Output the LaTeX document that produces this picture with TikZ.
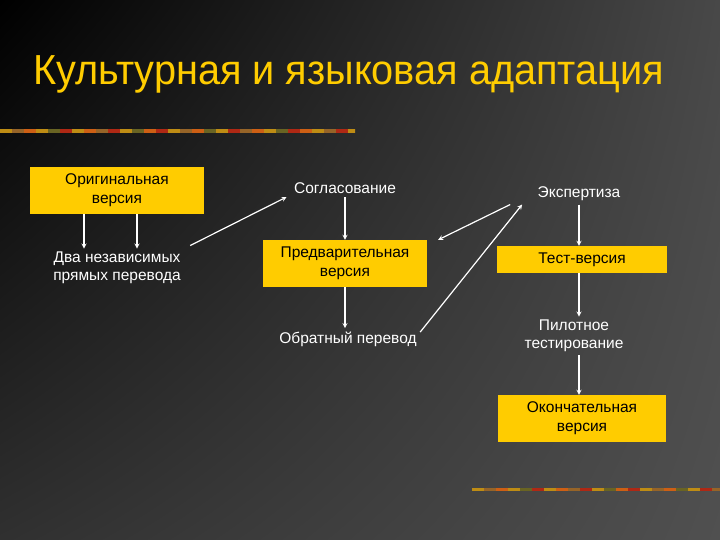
\documentclass[tikz,border=0pt]{standalone}
\usepackage{fontspec}
\usepackage{graphicx}
\setmainfont{Liberation Sans}
\usetikzlibrary{shadings}
\definecolor{gold}{RGB}{255,204,0}
\definecolor{bgTR}{RGB}{72,72,72}
\definecolor{bgBL}{RGB}{48,48,48}
\definecolor{bgBR}{RGB}{80,80,80}
\definecolor{stripA}{RGB}{190,140,20}
\definecolor{stripB}{RGB}{205,95,20}
\definecolor{stripC}{RGB}{175,40,20}
\definecolor{stripD}{RGB}{105,100,35}
\definecolor{stripE}{RGB}{150,100,40}
\tikzset{
  box/.style={fill=gold, text=black, align=center, inner sep=0pt, font=\fontsize{15.5}{19}\selectfont},
  lbl/.style={text=white, align=center, font=\fontsize{15.5}{18}\selectfont},
  arr/.style={draw=white, line width=1.2pt, -stealth},
}
\newcommand{\deco}[3]{%
  \begin{scope}
    \clip (#1,#2) rectangle (#3,#2+3.5);
    \foreach \c [count=\i from 0] in {stripA,stripE,stripB,stripA,stripD,stripC,stripA,stripB,stripE,stripC,
                                      stripA,stripD,stripB,stripC,stripA,stripE,stripB,stripD,stripA,stripC,
                                      stripE,stripB,stripA,stripD,stripC,stripB,stripA,stripE,stripC,stripA}
      \fill[\c] (#1+\i*12,#2) rectangle ++(12,3.5);
  \end{scope}}
\begin{document}
\begin{tikzpicture}[x=1pt,y=-1pt]
\shade[upper left=black, upper right=bgTR, lower left=bgBL, lower right=bgBR]
  (0,0) rectangle (720,540);
\node[anchor=base west, inner sep=0pt, text=gold, font=\fontsize{42}{48}\selectfont] (title) at (33,85) {\scalebox{0.945}[1]{Культурная и языковая адаптация}};
\deco{0}{129.5}{355}
\deco{472}{487.5}{720}

\node[box, minimum width=174pt, minimum height=47pt] (orig) at (117,190.5) {Оригинальная\\версия};
\node[lbl] (dva) at (117,268) {Два независимых\\прямых перевода};
\node[lbl] (sogl) at (345,188) {Согласование};
\node[box, minimum width=164pt, minimum height=47pt] (predv) at (345,263.5) {Предварительная\\версия};
\node[lbl] (obr) at (348,339) {Обратный перевод};
\node[lbl] (expert) at (579,194) {Экспертиза};
\node[box, minimum width=170pt, minimum height=27pt] (test) at (582,259.5) {Тест-версия};
\node[lbl] (pilot) at (574,336) {Пилотное\\тестирование};
\node[box, minimum width=168pt, minimum height=47pt] (final) at (582,418.5) {Окончательная\\версия};

\draw[arr] ([xshift=-33pt]orig.south) -- ([xshift=-33pt]orig.south |- dva.north);
\draw[arr] ([xshift=20pt]orig.south) -- ([xshift=20pt]orig.south |- dva.north);
\draw[arr] ([xshift=6pt,yshift=3pt]dva.north east) -- ([xshift=-4pt]sogl.south west);
\draw[arr] (sogl.south) -- (sogl.south |- predv.north);
\draw[arr] (predv.south) -- (predv.south |- obr.north);
\draw[arr] ([yshift=-4pt]obr.north east) -- ([xshift=-12pt]expert.south west);
\draw[arr] ([xshift=-24pt]expert.south west) -- ([xshift=11pt]predv.north east);
\draw[arr] (expert.south) -- (expert.south |- test.north);
\draw[arr] (expert.south |- test.south) -- (expert.south |- pilot.north);
\draw[arr] (expert.south |- pilot.south) -- (expert.south |- final.north);
\end{tikzpicture}
\end{document}
